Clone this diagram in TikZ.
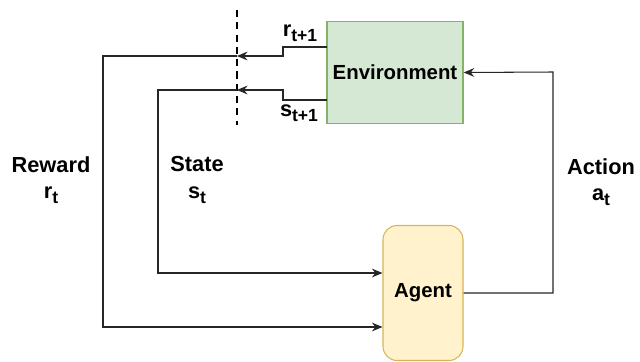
\documentclass[tikz,border=0pt]{standalone}
\usepackage{fontspec}
\setmainfont{Liberation Sans}
\usetikzlibrary{arrows.meta}

% subscript index, a bit larger than \textsubscript
\newcommand{\idx}[1]{\raisebox{-0.45ex}{\fontsize{10}{11}\selectfont #1}}

\tikzset{
  flow/.style={draw=black!85, line width=0.6pt, -{Stealth[length=6pt,width=5pt,inset=2pt]}},
  envbox/.style={draw={rgb,255:red,130;green,179;blue,102}, fill={rgb,255:red,213;green,232;blue,212},
    line width=0.8pt, minimum width=136*0.02cm, minimum height=102*0.02cm},
  agentbox/.style={draw={rgb,255:red,214;green,182;blue,86}, fill={rgb,255:red,255;green,242;blue,204},
    line width=0.6pt, rounded corners=8pt, minimum width=80*0.02cm, minimum height=135*0.02cm},
  lbl/.style={font=\bfseries\fontsize{11.6}{13}\selectfont, align=center, inner sep=1pt},
  side/.style={lbl, font=\bfseries\fontsize{12.4}{15}\selectfont}
}

\begin{document}
\begin{tikzpicture}[x=0.02cm, y=-0.02cm]
    \useasboundingbox (0,0) rectangle (640,362);
    % boxes
    \node[envbox] (env) at (395, 72.5) {};
    \node[lbl] at (env) {Environment};
    \node[agentbox] (agent) at (423, 293) {};
    \node[lbl] at (agent) {Agent};
    % time step boundary
    \coordinate (d0) at (237, 10);
    \coordinate (d1) at (237, 125);
    \draw[dashed, line width=1pt, dash pattern=on 4pt off 3pt] (d0) -- (d1);
    % bends
    \coordinate (r0) at (327, 47);
    \coordinate (r1) at (283, 47);
    \coordinate (r2) at (283, 56);
    \coordinate (r3) at (237, 56);
    \coordinate (s0) at (327, 100);
    \coordinate (s1) at (283, 100);
    \coordinate (s2) at (283, 90);
    \coordinate (s3) at (237, 90);
    \coordinate (rl) at (103, 56);
    \coordinate (rb) at (103, 327);
    \coordinate (sl) at (158, 90);
    \coordinate (sb) at (158, 273);
    \coordinate (ar) at (553, 293);
    \coordinate (at) at (553, 72);
    % connectors
    \draw[flow] (r0) -- (r1) -- (r2) -- (r3);
    \draw[flow] (s0) -- (s1) -- (s2) -- (s3);
    \draw[flow] (r3) -- (rl) -- (rb) -- (agent.west |- rb);
    \draw[flow] (s3) -- (sl) -- (sb) -- (agent.west |- sb);
    \draw[flow] (agent.east) -- (ar) -- (at) -- (env.east);
    % labels
    \node[side] (rnext) at (300, 33) {r\idx{t+1}};
    \node[side] (snext) at (299, 113) {s\idx{t+1}};
    \node[side] (reward) at (51, 180) {Reward\\r\idx{t}};
    \node[side] (state) at (197, 180) {State\\s\idx{t}};
    \node[side] (action) at (601, 182) {Action\\a\idx{t}};
\end{tikzpicture}
\end{document}
